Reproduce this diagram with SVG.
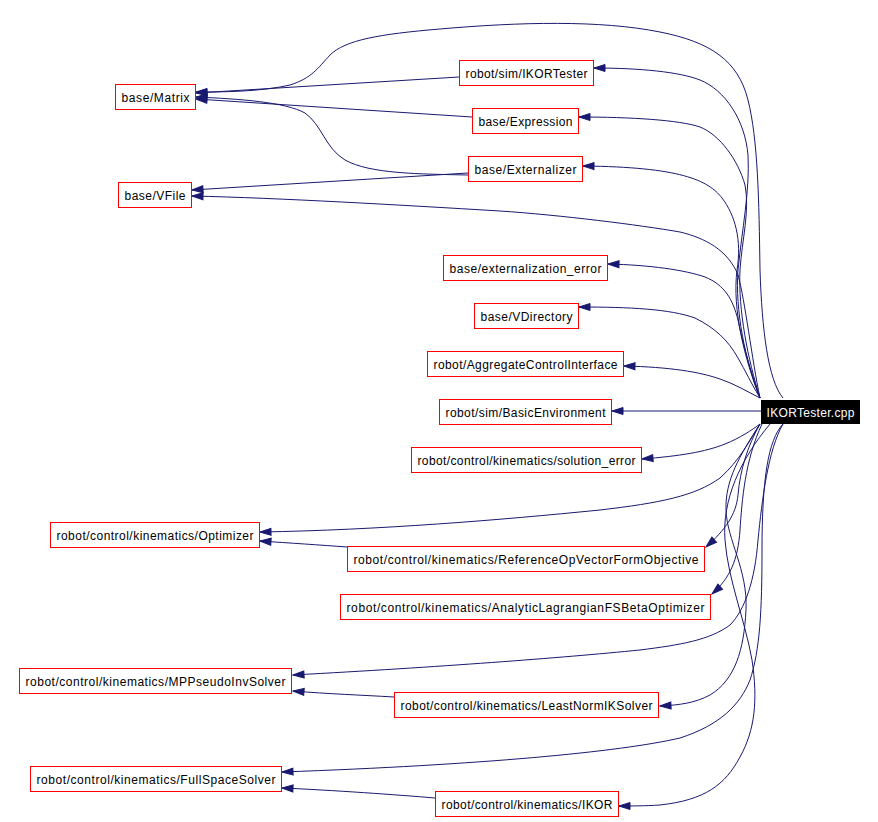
<svg xmlns="http://www.w3.org/2000/svg" width="878" height="822" viewBox="0 0 878 822">
<defs>
<marker id="ah" markerUnits="userSpaceOnUse" markerWidth="13" markerHeight="9" viewBox="-1 -1 13 9" refX="11" refY="3.5" orient="auto">
<path d="M0,0 L11,3.5 L0,7 z" fill="#191970" stroke="#191970" stroke-width="1"/>
</marker>
<style>
.n rect{fill:#fff;stroke:#ff0000;stroke-width:1}
.n text{font-family:"Liberation Sans",Arial,sans-serif;font-size:12px;fill:#000;text-anchor:middle}
.r rect{fill:#000;stroke:#000}
.r text{fill:#fff}
.e path{fill:none;stroke:#191970;stroke-width:1;marker-end:url(#ah)}
</style>
</defs>
<rect width="878" height="822" fill="#fff"/>
<g class="e" id="edges">
<path d="M783,398 C768,380 762,330 760,270 C759,200 758,140 748,100 C738,60 710,42 660,32 C600,20 520,22 440,29 C380,34 345,40 330,55 C318,68 312,78 290,85 C260,92 220,92 196,92"/>
<path d="M459,77 L196,93"/>
<path d="M472,117 L196,99"/>
<path d="M468,175 C420,174 370,174 345,160 C325,148 322,125 305,113 C285,102 240,99 196,97"/>
<path d="M468,173 L192,190"/>
<path d="M760,398 C752,360 745,300 738,275 C728,250 705,238 680,232 C640,225 560,215 500,211 C400,205 280,198 192,196"/>
<path d="M760,398 C745,360 735,310 738,270 C742,230 750,190 748,155 C745,120 725,90 700,80 C680,72 640,68 594,68"/>
<path d="M760,398 C748,360 738,310 740,270 C742,240 750,210 745,185 C738,160 720,135 700,127 C680,120 630,117 579,117"/>
<path d="M760,398 C745,360 732,310 737,270 C742,240 735,215 722,198 C708,180 680,167 583,166"/>
<path d="M760,398 C750,370 742,340 738,320 C733,300 725,285 705,277 C685,270 650,265 608,264"/>
<path d="M760,398 C752,385 745,370 738,358 C728,340 715,328 695,318 C670,309 630,307 579,307"/>
<path d="M760,398 C748,392 735,384 720,379 C700,372 670,367 624,366"/>
<path d="M761,411 L612,411"/>
<path d="M760,424 C752,430 740,438 725,444 C705,452 680,456 642,459"/>
<path d="M760,424 C750,440 740,460 720,478 C695,496 660,503 600,510 C500,520 380,530 260,532"/>
<path d="M347,547 C320,545 290,543 260,541"/>
<path d="M760,424 C748,445 740,470 738,495 C736,515 725,530 706,547"/>
<path d="M762,424 C745,460 742,500 740,530 C738,560 730,578 712,594"/>
<path d="M783,424 C768,450 762,500 758,540 C755,580 745,610 730,625 C710,640 680,645 640,650 C560,658 440,667 293,675"/>
<path d="M394,697 C360,695 330,694 293,691"/>
<path d="M760,424 C740,455 725,480 726,510 C727,540 748,570 746,610 C744,650 735,680 710,695 C695,703 680,705 660,706"/>
<path d="M783,424 C768,440 762,480 762,550 C762,610 760,650 750,680 C740,705 720,725 680,738 C620,752 480,765 282,772"/>
<path d="M770,424 C740,460 722,500 725,540 C728,580 745,620 752,660 C758,700 755,730 740,757 C725,785 705,800 660,805 C645,806 630,806 619,806"/>
<path d="M435,798 C400,795 330,790 282,788"/>
</g>
<g class="n" id="n_matrix"><rect x="115.5" y="84.5" width="80" height="25"/><text x="155.5" y="102" textLength="68" lengthAdjust="spacing">base/Matrix</text></g>
<g class="n" id="n_vfile"><rect x="118.5" y="182.5" width="73" height="25"/><text x="155" y="200" textLength="61" lengthAdjust="spacing">base/VFile</text></g>
<g class="n" id="n_ikortester"><rect x="459.5" y="60.5" width="134" height="25"/><text x="526.5" y="78" textLength="122" lengthAdjust="spacing">robot/sim/IKORTester</text></g>
<g class="n" id="n_expression"><rect x="472.5" y="108.5" width="106" height="25"/><text x="525.5" y="126" textLength="94" lengthAdjust="spacing">base/Expression</text></g>
<g class="n" id="n_externalizer"><rect x="468.5" y="156.5" width="114" height="25"/><text x="525.5" y="174" textLength="102" lengthAdjust="spacing">base/Externalizer</text></g>
<g class="n" id="n_exterr"><rect x="443.5" y="255.5" width="164" height="25"/><text x="525.5" y="273" textLength="152" lengthAdjust="spacing">base/externalization_error</text></g>
<g class="n" id="n_vdir"><rect x="474.5" y="303.5" width="104" height="25"/><text x="526.5" y="321" textLength="92" lengthAdjust="spacing">base/VDirectory</text></g>
<g class="n" id="n_agg"><rect x="427.5" y="351.5" width="196" height="25"/><text x="525.5" y="369" textLength="184" lengthAdjust="spacing">robot/AggregateControlInterface</text></g>
<g class="n" id="n_basicenv"><rect x="439.5" y="399.5" width="172" height="25"/><text x="525.5" y="417" textLength="160" lengthAdjust="spacing">robot/sim/BasicEnvironment</text></g>
<g class="n r" id="n_root"><rect x="761.5" y="400.5" width="98" height="23"/><text x="810.5" y="417" textLength="88" lengthAdjust="spacing">IKORTester.cpp</text></g>
<g class="n" id="n_solerr"><rect x="411.5" y="447.5" width="230" height="25"/><text x="526.5" y="465" textLength="218" lengthAdjust="spacing">robot/control/kinematics/solution_error</text></g>
<g class="n" id="n_optimizer"><rect x="50.5" y="522.5" width="209" height="25"/><text x="155" y="540" textLength="197" lengthAdjust="spacing">robot/control/kinematics/Optimizer</text></g>
<g class="n" id="n_refop"><rect x="347.5" y="546.5" width="357" height="25"/><text x="526" y="564" textLength="345" lengthAdjust="spacing">robot/control/kinematics/ReferenceOpVectorFormObjective</text></g>
<g class="n" id="n_analytic"><rect x="340.5" y="594.5" width="370" height="25"/><text x="525.5" y="612" textLength="358" lengthAdjust="spacing">robot/control/kinematics/AnalyticLagrangianFSBetaOptimizer</text></g>
<g class="n" id="n_mppseudo"><rect x="19.5" y="668.5" width="272" height="25"/><text x="155.5" y="686" textLength="260" lengthAdjust="spacing">robot/control/kinematics/MPPseudoInvSolver</text></g>
<g class="n" id="n_leastnorm"><rect x="394.5" y="692.5" width="264" height="25"/><text x="526.5" y="710" textLength="252" lengthAdjust="spacing">robot/control/kinematics/LeastNormIKSolver</text></g>
<g class="n" id="n_fullspace"><rect x="30.5" y="766.5" width="251" height="25"/><text x="156" y="784" textLength="239" lengthAdjust="spacing">robot/control/kinematics/FullSpaceSolver</text></g>
<g class="n" id="n_ikor"><rect x="435.5" y="791.5" width="183" height="25"/><text x="527" y="809" textLength="171" lengthAdjust="spacing">robot/control/kinematics/IKOR</text></g>
</svg>
